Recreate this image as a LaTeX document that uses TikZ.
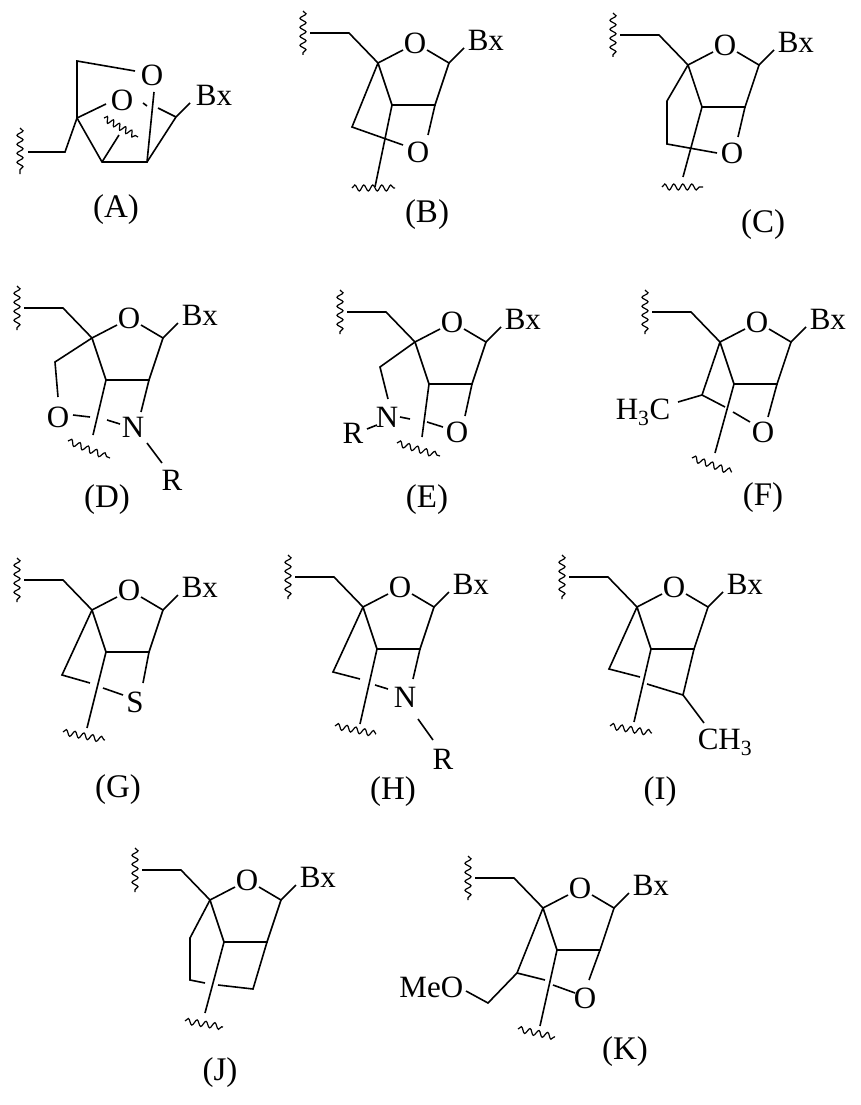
\documentclass[tikz,border=0pt]{standalone}
\usepackage{fontspec}
\setmainfont{Liberation Serif}
\usetikzlibrary{decorations.pathmorphing}
\tikzset{
  wav/.style={decorate,decoration={snake,amplitude=3pt,segment length=9pt},line width=1.2pt},
  atm/.style={inner sep=0pt,font=\fontsize{31}{33}\selectfont},
  lab/.style={inner sep=0pt,font=\fontsize{33}{35}\selectfont},
}
\newcommand\furcore{%
  \draw[wav] (-75,-52) -- (-75,-8);
  \draw (-68,-30) -- (-29,-30) -- (0,0) -- (25,-13);
  \node[atm] (o4) at (37,-20) {O};
  \draw (49,-13) -- (71,0) -- (86,-15);
  \node[atm,anchor=west] (bx) at (89,-23) {Bx};
  \draw (0,0) -- (14,42) -- (57,42) -- (71,0);
}
\begin{document}
\begin{tikzpicture}[x=1pt,y=-1pt,line width=1.6pt,line join=miter]
\useasboundingbox (0,0) rectangle (861,1105);
% (A)
\begin{scope}
\draw[wav] (20,128) -- (20,174);
\draw (28,152) -- (65,152) -- (77,118) -- (77,61) -- (135,71);
\node[atm] (ao1) at (152,75) {O};
\node[atm] (ao2) at (122,100) {O};
\draw (77,118) -- (106,104);
\draw (77,118) -- (102,162) -- (147,162) -- (154,92);
\draw (102,162) -- (119,135);
\draw[wav,segment length=7pt] (104,118) -- (138,137);
\draw (147,162) -- (176,117) -- (190,103);
\draw (158,108) -- (176,117);
\draw (143,103) -- (147,106);
\node[atm] (abx) at (214,95) {Bx};
\end{scope}
\node[lab] (LA) at (116,210) {(A)};
% (B)
\begin{scope}[shift={(378,63)}]
\furcore
\draw (0,0) -- (-26,64) -- (25,82);
\node[atm] (bo) at (40,89) {O};
\draw (57,42) -- (50,72);
\draw (14,42) -- (-3,124);
\draw[wav] (-26,125) -- (17,125);
\end{scope}
\node[lab] (LB) at (427,215) {(B)};
% (C)
\begin{scope}[shift={(688,65)}]
\furcore
\draw (0,0) -- (-21,36) -- (-21,79) -- (29,88);
\node[atm] (co) at (44,88) {O};
\draw (57,42) -- (50,72);
\draw (14,42) -- (-5,112);
\draw[wav] (-26,122) -- (15,122);
\end{scope}
\node[lab] (LC) at (763,225) {(C)};
% (D)
\begin{scope}[shift={(92,338)}]
\furcore
\draw (0,0) -- (-37,24) -- (-34,59);
\node[atm] (do) at (-34,79) {O};
\draw (-19,77) -- (-2,79);
\draw (15,82) -- (28,86);
\node[atm] (dn) at (41,89) {N};
\draw (57,42) -- (49,74);
\draw (14,42) -- (1,97);
\draw[wav] (-24,103) -- (18,120);
\draw (55,105) -- (70,125);
\node[atm] (dr) at (80,142) {R};
\end{scope}
\node[lab] (LD) at (107,500) {(D)};
% (E)
\begin{scope}[shift={(415,342)}]
\furcore
\draw (0,0) -- (-35,25) -- (-27,57);
\node[atm] (en) at (-28,75) {N};
\draw (-38,83) -- (-48,87);
\node[atm] (er) at (-62,91) {R};
\draw (-15,75) -- (-5,77);
\draw (12,80) -- (28,85);
\node[atm] (eo) at (42,90) {O};
\draw (57,42) -- (50,74);
\draw (14,42) -- (7,95);
\draw[wav] (-18,101) -- (25,114);
\end{scope}
\node[lab] (LE) at (427,500) {(E)};
% (F)
\begin{scope}[shift={(720,342)}]
\furcore
\draw (0,0) -- (-18,53) -- (-42,60);
\node[atm,anchor=east] (fme) at (-49,70) {H\textsubscript{3}C};
\draw (-18,53) -- (5,65);
\draw (13,70) -- (30,80);
\node[atm] (fo) at (43,90) {O};
\draw (57,42) -- (48,75);
\draw (14,42) -- (-5,111);
\draw[wav] (-28,116) -- (12,130);
\end{scope}
\node[lab] (LF) at (763,498) {(F)};
% (G)
\begin{scope}[shift={(92,610)}]
\furcore
\draw (0,0) -- (-30,65) -- (-2,73);
\draw (11,78) -- (31,85);
\node[atm] (gs) at (43,92) {S};
\draw (57,42) -- (51,73);
\draw (14,42) -- (-5,118);
\draw[wav] (-29,122) -- (13,130);
\end{scope}
\node[lab] (LG) at (118,790) {(G)};
% (H)
\begin{scope}[shift={(363,607)}]
\furcore
\draw (0,0) -- (-30,65) -- (-3,72);
\draw (12,78) -- (25,82);
\node[atm] (hn) at (42,90) {N};
\draw (57,42) -- (50,72);
\draw (55,112) -- (70,133);
\node[atm] (hr) at (80,152) {R};
\draw (14,42) -- (-3,117);
\draw[wav] (-28,119) -- (13,127);
\end{scope}
\node[lab] (LH) at (393,792) {(H)};
% (I)
\begin{scope}[shift={(637,607)}]
\furcore
\draw (0,0) -- (-28,62) -- (3,70);
\draw (10,77) -- (46,88) -- (57,42);
\draw (46,88) -- (67,116);
\node[atm,anchor=west] (ime) at (60,135) {CH\textsubscript{3}};
\draw (14,42) -- (-3,115);
\draw[wav] (-27,119) -- (15,126);
\end{scope}
\node[lab] (LI) at (660,792) {(I)};
% (J)
\begin{scope}[shift={(210,900)}]
\furcore
\draw (0,0) -- (-20,38) -- (-20,80) -- (-5,83);
\draw (8,85) -- (43,89) -- (57,42);
\draw (14,42) -- (-5,113);
\draw[wav] (-25,121) -- (13,127);
\end{scope}
\node[lab] (LJ) at (220,1073) {(J)};
% (K)
\begin{scope}[shift={(543,908)}]
\furcore
\draw (0,0) -- (-26,65) -- (-55,95) -- (-77,83);
\node[atm,anchor=east] (kme) at (-79,79) {MeO};
\draw (-26,65) -- (2,72);
\draw (10,77) -- (32,85);
\node[atm] (ko) at (42,90) {O};
\draw (57,42) -- (46,72);
\draw (14,42) -- (-3,118);
\draw[wav] (-25,121) -- (12,129);
\end{scope}
\node[lab] (LK) at (625,1052) {(K)};
\end{tikzpicture}
\end{document}
